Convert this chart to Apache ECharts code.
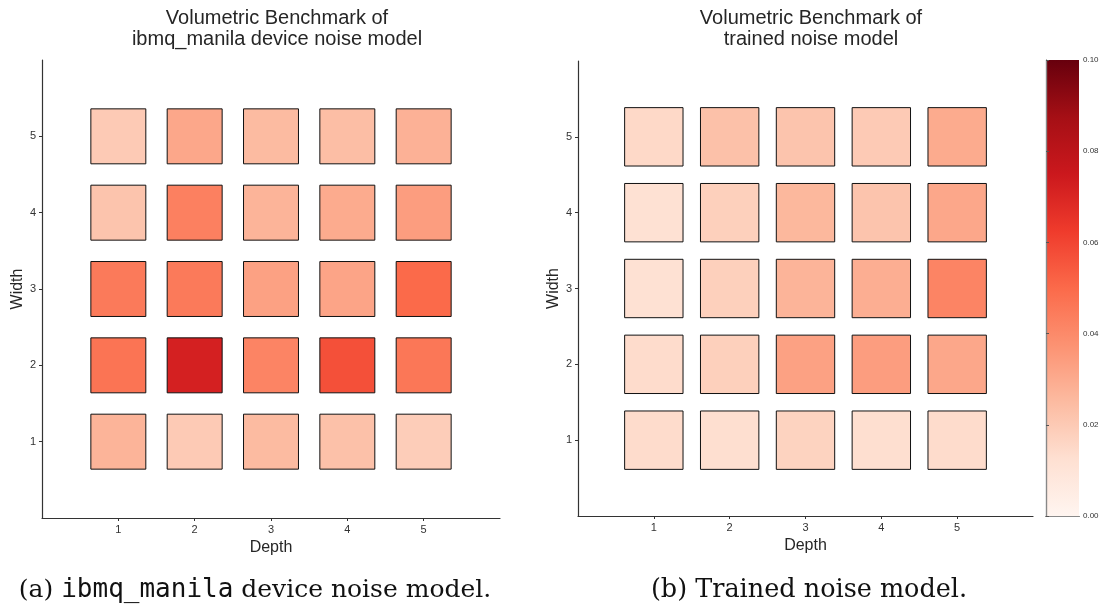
<!DOCTYPE html>
<html>
<head>
<meta charset="utf-8">
<script src="https://cdn.jsdelivr.net/npm/echarts@6/dist/echarts.min.js"></script>
<style>html,body{margin:0;padding:0;background:#fff}#c{width:1108px;height:608px}</style>
</head>
<body>
<div id="c"></div>
<script>
// ---- data ----
const depths = [1, 2, 3, 4, 5];
const widths = [1, 2, 3, 4, 5];
const tickLabels = ['1', '2', '3', '4', '5'];
const colorbarTicks = [0, 0.02, 0.04, 0.06, 0.08, 0.10];
// values per width row (width 1..5), columns = depth 1..5
const manilaW1 = [0.027, 0.020, 0.025, 0.023, 0.019];
const manilaW2 = [0.047, 0.072, 0.042, 0.057, 0.046];
const manilaW3 = [0.045, 0.045, 0.033, 0.032, 0.050];
const manilaW4 = [0.022, 0.043, 0.027, 0.030, 0.034];
const manilaW5 = [0.020, 0.031, 0.025, 0.024, 0.028];
const trainedW1 = [0.014, 0.013, 0.017, 0.013, 0.014];
const trainedW2 = [0.014, 0.018, 0.033, 0.034, 0.031];
const trainedW3 = [0.012, 0.018, 0.027, 0.029, 0.042];
const trainedW4 = [0.012, 0.018, 0.026, 0.022, 0.031];
const trainedW5 = [0.015, 0.023, 0.022, 0.020, 0.030];
const vmin = 0, vmax = 0.10;

const manilaRows = [manilaW1, manilaW2, manilaW3, manilaW4, manilaW5];
const trainedRows = [trainedW1, trainedW2, trainedW3, trainedW4, trainedW5];
function build(rows) {
  const out = [];
  widths.forEach((w, i) => depths.forEach((d, j) => out.push([d, w, rows[i][j]])));
  return out;
}
const reds = ['#fff5f0','#fee0d2','#fcbba1','#fc9272','#fb6a4a','#ef3b2c','#cb181d','#a50f15','#67000d'];

function cellRenderer(size) {
  return function (params, api) {
    const c = api.coord([api.value(0), api.value(1)]);
    const s = api.size([size, size]);
    return {
      type: 'rect',
      shape: { x: c[0] - s[0] / 2, y: c[1] - s[1] / 2, width: s[0], height: s[1] },
      style: { fill: api.visual('color'), stroke: '#111', lineWidth: 1 }
    };
  };
}
function colorbarRenderer(params, api) {
  const p0 = api.coord([0, api.value(0)]);
  const p1 = api.coord([1, api.value(1)]);
  const stops = reds.map((c, i) => ({ offset: 1 - i / (reds.length - 1), color: c }));
  return {
    type: 'rect',
    shape: { x: p0[0], y: p1[1], width: p1[0] - p0[0], height: p0[1] - p1[1] },
    style: { fill: new echarts.graphic.LinearGradient(0, 0, 0, 1, stops.reverse()) }
  };
}

const FONT = 'Liberation Sans, Arial, sans-serif';
const axisCommon = {
  type: 'value', min: 0, max: 6, interval: 1,
  splitLine: { show: false },
  axisLine: { show: true, lineStyle: { color: '#333', width: 1.2 } },
  axisTick: { show: true, length: 3, customValues: depths, lineStyle: { color: '#333' } },
  axisLabel: { customValues: depths, formatter: v => tickLabels[v - 1] || '', color: '#333', fontSize: 11, fontFamily: FONT, margin: 6 },
  nameTextStyle: { color: '#262626', fontSize: 16, fontFamily: FONT }
};
function xAx(gi) { return Object.assign({}, axisCommon, { gridIndex: gi, name: 'Depth', nameLocation: 'middle', nameGap: 22 }); }
function yAx(gi) { return Object.assign({}, axisCommon, { gridIndex: gi, name: 'Width', nameLocation: 'middle', nameGap: 16 }); }

const titleStyle = { color: '#262626', fontSize: 20, fontWeight: 'normal', lineHeight: 21, fontFamily: FONT };

const chart = echarts.init(document.getElementById('c'), null, { renderer: 'canvas' });
chart.setOption({
  backgroundColor: '#fff',
  animation: false,
  title: [
    { text: 'Volumetric Benchmark of\nibmq_manila device noise model', left: 272, top: 3, textAlign: 'center', textStyle: titleStyle },
    { text: 'Volumetric Benchmark of\ntrained noise model', left: 806, top: 3, textAlign: 'center', textStyle: titleStyle }
  ],
  grid: [
    { left: 42, top: 60, width: 458, height: 458 },
    { left: 578, top: 61, width: 455, height: 455 },
    { left: 1046, top: 60, width: 33, height: 456 }
  ],
  xAxis: [
    xAx(0), xAx(1),
    { type: 'value', gridIndex: 2, position: 'bottom', min: 0, max: 1, z: 10,
      axisLine: { show: true, lineStyle: { color: '#111', width: 1.2 } }, axisTick: { show: false }, axisLabel: { show: false }, splitLine: { show: false } },
    { type: 'value', gridIndex: 2, position: 'top', min: 0, max: 1, z: 10,
      axisLine: { show: true, lineStyle: { color: '#888', width: 1.2 } }, axisTick: { show: false }, axisLabel: { show: false }, splitLine: { show: false } }
  ],
  yAxis: [
    yAx(0), yAx(1),
    { type: 'value', gridIndex: 2, position: 'right', min: vmin, max: vmax, interval: 0.02, z: 10,
      axisLine: { show: true, lineStyle: { color: '#888', width: 1.2 } },
      axisTick: { show: true, length: 3, lineStyle: { color: '#555' } },
      axisLabel: { color: '#333', fontSize: 8, margin: 4, formatter: v => v.toFixed(2), fontFamily: FONT },
      splitLine: { show: false } },
    { type: 'value', gridIndex: 2, position: 'left', min: vmin, max: vmax, z: 10,
      axisLine: { show: true, lineStyle: { color: '#888', width: 1.2 } },
      axisTick: { show: false }, axisLabel: { show: false }, splitLine: { show: false } }
  ],
  visualMap: {
    type: 'continuous', show: false, min: vmin, max: vmax, dimension: 2, seriesIndex: [0, 1],
    inRange: { color: reds }
  },
  series: [
    { type: 'custom', xAxisIndex: 0, yAxisIndex: 0, renderItem: cellRenderer(0.72), data: build(manilaRows) },
    { type: 'custom', xAxisIndex: 1, yAxisIndex: 1, renderItem: cellRenderer(0.77), data: build(trainedRows) },
    { type: 'custom', xAxisIndex: 2, yAxisIndex: 2, renderItem: colorbarRenderer, data: [[vmin, vmax]], silent: true }
  ],
  graphic: [
    { type: 'text', x: 255, y: 590,
      style: { text: '{s|(a) }{m|ibmq_manila}{s| device noise model.}', align: 'center', verticalAlign: 'middle',
        rich: { s: { fontFamily: 'DejaVu Serif, serif', fontSize: 25, fill: '#111' }, m: { fontFamily: 'DejaVu Sans Mono, monospace', fontSize: 26, fill: '#111' } } } },
    { type: 'text', x: 809, y: 590,
      style: { text: '(b) Trained noise model.', align: 'center', verticalAlign: 'middle', fontFamily: 'DejaVu Serif, serif', fontSize: 25.5, fill: '#111' } }
  ]
});
</script>
</body>
</html>
